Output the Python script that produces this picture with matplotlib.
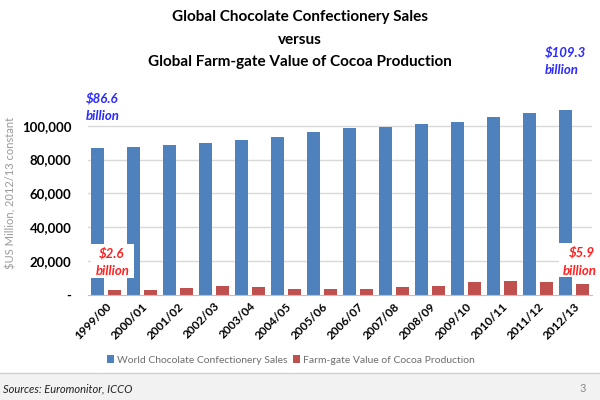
import numpy as np
import matplotlib
matplotlib.use("Agg")
import matplotlib.pyplot as plt
from matplotlib.patches import Rectangle

plt.rcParams['font.family'] = ['Lato', 'DejaVu Sans']

# data (US$ million, 2012/13 constant)
seasons = ['1999/00', '2000/01', '2001/02', '2002/03', '2003/04', '2004/05', '2005/06',
           '2006/07', '2007/08', '2008/09', '2009/10', '2010/11', '2011/12', '2012/13']
choc_sales = [86600, 87600, 88600, 89800, 91600, 93100, 96100,
              98400, 99400, 101000, 102400, 104900, 107300, 109300]
cocoa_value = [2800, 3000, 4100, 5100, 4700, 3500, 3300,
               3300, 4900, 5500, 7700, 8100, 7500, 6300]
y_ticks = [0, 20000, 40000, 60000, 80000, 100000]
y_ticklabels = ['-', '20,000', '40,000', '60,000', '80,000', '100,000']

BLUE = '#4F81BD'
RED = '#C0504D'

fig = plt.figure(figsize=(6, 4), dpi=100)
ax = fig.add_axes([0.1467, 0.2625, 0.84, 0.508])

x = np.arange(len(seasons))
w = 0.35
ax.bar(x - 0.23, choc_sales, w, color=BLUE, label='World Chocolate Confectionery Sales', zorder=2)
ax.bar(x + 0.23, cocoa_value, w, color=RED, label='Farm-gate Value of Cocoa Production', zorder=2)

ax.set_xlim(-0.5, len(seasons) - 0.5)
ax.set_ylim(0, 120000)
ax.set_yticks(y_ticks)
ax.set_yticklabels(y_ticklabels, fontsize=9.5, fontweight='bold')
ax.set_xticks(x)
ax.set_xticklabels(seasons, rotation=45, ha='right', rotation_mode='anchor',
                   fontsize=8.5, fontweight='bold')
ax.tick_params(axis='both', length=0, pad=4)
ax.tick_params(axis='y', pad=12)

for yv in y_ticks[1:]:
    ax.axhline(yv, color='#D9D9D9', lw=1, zorder=1)
for s in ['top', 'right', 'left']:
    ax.spines[s].set_visible(False)
ax.spines['bottom'].set_color('#BFBFBF')

ax.set_ylabel('$US Million, 2012/13 constant', color='#9A9A9A', fontsize=8, labelpad=4)

# title
fig.text(0.5, 1 - 17 / 400, 'Global Chocolate Confectionery Sales', ha='center', va='center',
         fontsize=11, fontweight='bold')
fig.text(0.5, 1 - 40 / 400, 'versus', ha='center', va='center', fontsize=11, fontweight='bold')
fig.text(0.5, 1 - 62 / 400, 'Global Farm-gate Value of Cocoa Production', ha='center', va='center',
         fontsize=11, fontweight='bold')

# annotations
BLUE_TXT = '#2B2BFF'
RED_TXT = '#FF2020'
fig.text(86 / 600, 1 - 98 / 400, '$86.6', color=BLUE_TXT, fontsize=9.5, fontweight='bold',
         style='italic', va='center')
fig.text(86 / 600, 1 - 116 / 400, 'billion', color=BLUE_TXT, fontsize=9.5, fontweight='bold',
         style='italic', va='center')
fig.text(545 / 600, 1 - 52 / 400, '$109.3', color=BLUE_TXT, fontsize=9.5, fontweight='bold',
         style='italic', va='center')
fig.text(545 / 600, 1 - 70 / 400, 'billion', color=BLUE_TXT, fontsize=9.5, fontweight='bold',
         style='italic', va='center')

fig.patches.append(Rectangle((91 / 600, 1 - 278 / 400), 43 / 600, 34 / 400,
                             transform=fig.transFigure, facecolor='white', edgecolor='none', zorder=5))
fig.patches.append(Rectangle((559 / 600, 1 - 277 / 400), 41 / 600, 34 / 400,
                             transform=fig.transFigure, facecolor='white', edgecolor='none', zorder=5))
fig.text(112 / 600, 1 - 253 / 400, '$2.6', color=RED_TXT, fontsize=9.5, fontweight='bold',
         style='italic', ha='center', va='center', zorder=6)
fig.text(113 / 600, 1 - 271 / 400, 'billion', color=RED_TXT, fontsize=9.5, fontweight='bold',
         style='italic', ha='center', va='center', zorder=6)
fig.text(582 / 600, 1 - 252 / 400, '$5.9', color=RED_TXT, fontsize=9.5, fontweight='bold',
         style='italic', ha='center', va='center', zorder=6)
fig.text(580 / 600, 1 - 271 / 400, 'billion', color=RED_TXT, fontsize=9.5, fontweight='bold',
         style='italic', ha='center', va='center', zorder=6)

# legend
leg = fig.legend(loc='center', bbox_to_anchor=(0.485, 1 - 360 / 400), ncol=2, frameon=False,
                 fontsize=7.5, handlelength=0.7, handleheight=0.7, handletextpad=0.3,
                 columnspacing=0.5, labelcolor='#6E6E6E')

# footer band
fig.patches.append(Rectangle((0, 0), 1, 27 / 400, transform=fig.transFigure,
                             facecolor='#F2F2F2', edgecolor='none', zorder=0))
fig.add_artist(plt.Line2D([0, 1], [27 / 400, 27 / 400], transform=fig.transFigure,
                          color='#D0D0D0', lw=1))
fig.text(3 / 600, 1 - 389 / 400, 'Sources: Euromonitor, ICCO', fontsize=8, style='italic',
         va='center', color='#222222')
fig.text(580 / 600, 1 - 389 / 400, '3', fontsize=8, va='center', color='#8A8A8A')

fig.savefig('out.png', dpi=100)
